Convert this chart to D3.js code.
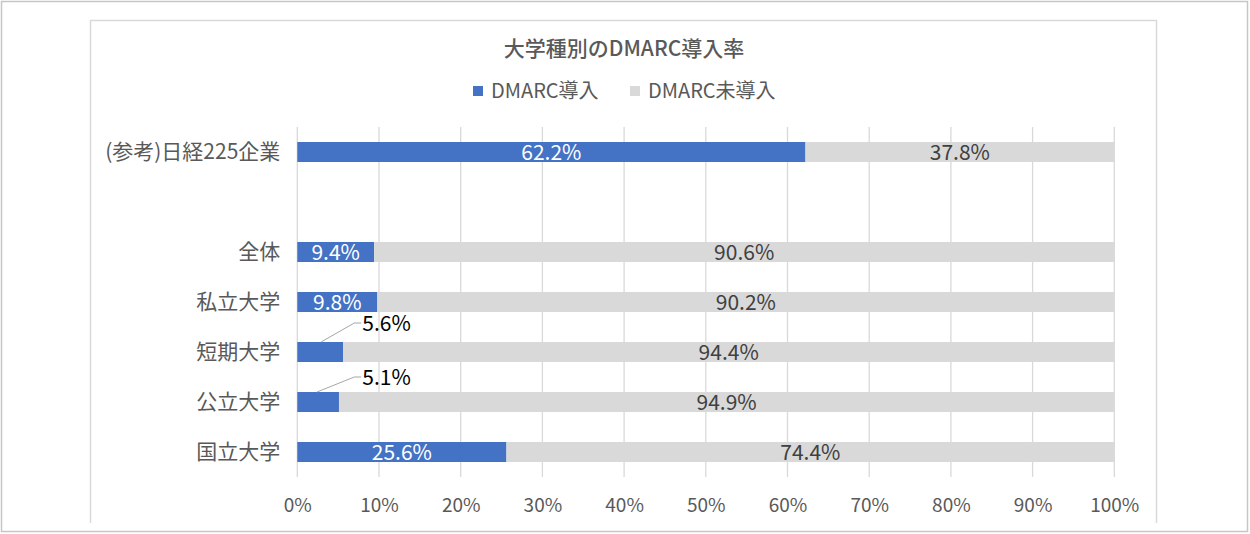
<!DOCTYPE html>
<html><head><meta charset="utf-8">
<script src="https://cdn.jsdelivr.net/npm/d3@7"></script>
<style>
html,body{margin:0;padding:0;background:#fff;}
svg{display:block;font-family:"Noto Sans CJK JP","Noto Sans",sans-serif;}
</style></head>
<body>
<svg id="chart" width="1250" height="534"></svg>
<script>
const chartTitle = "大学種別のDMARC導入率";
const seriesNames = ["DMARC導入", "DMARC未導入"];
const categories = ["(参考)日経225企業", "", "全体", "私立大学", "短期大学", "公立大学", "国立大学"];
const adopted =    [62.2, null, 9.4, 9.8, 5.6, 5.1, 25.6];
const notAdopted = [37.8, null, 90.6, 90.2, 94.4, 94.9, 74.4];
const xTicks = [0, 10, 20, 30, 40, 50, 60, 70, 80, 90, 100];

const colors = ["#4472C4", "#D9D9D9"];
const svg = d3.select("#chart");

// frames
svg.append("rect").attr("x", 1.5).attr("y", 1.5).attr("width", 1246).attr("height", 530)
  .attr("fill", "none").attr("stroke", "#c6c6c6").attr("stroke-width", 1.5);
svg.append("path").attr("d", "M90.5,523V20.5H1156.5V523")
  .attr("fill", "none").attr("stroke", "#d9d9d9").attr("stroke-width", 1.5);

const x = d3.scaleLinear().domain([0, 100]).range([297.3, 1114.3]);
const keys = categories.map((c, i) => "k" + i);
const y = d3.scaleBand().domain(keys).range([127, 477]).paddingInner(0.6).paddingOuter(0.3);

// gridlines
svg.append("g").selectAll("line").data(xTicks).join("line")
  .attr("x1", d => x(d)).attr("x2", d => x(d))
  .attr("y1", 127).attr("y2", 477)
  .attr("stroke", "#d9d9d9").attr("stroke-width", 1.3);

// x axis labels
const xAxis = d3.axisBottom(x).tickValues(xTicks).tickFormat(d => d + "%").tickSize(0).tickPadding(0);
const gx = svg.append("g").attr("transform", "translate(0,500)").call(xAxis);
gx.select(".domain").remove();
gx.selectAll("text").attr("font-size", 19).attr("fill", "#595959")
  .attr("font-family", "'Noto Sans CJK JP',sans-serif").attr("dy", "0.75em").attr("y", -2);

// y axis labels
const yAxis = d3.axisLeft(y).tickFormat((d, i) => categories[i]).tickSize(0).tickPadding(17);
const gy = svg.append("g").attr("transform", "translate(297.3,0)").call(yAxis);
gy.select(".domain").remove();
gy.selectAll("text").attr("font-size", 21).attr("fill", "#595959")
  .attr("font-family", "'Noto Sans CJK JP',sans-serif");

const rows = categories.map((c, i) => ({ key: keys[i], a: adopted[i], b: notAdopted[i] }))
  .filter(r => r.a != null);

const bh = y.bandwidth();
// bars
svg.append("g").selectAll("rect").data(rows).join("rect")
  .attr("x", d => x(0)).attr("y", d => y(d.key))
  .attr("width", d => x(d.a) - x(0)).attr("height", bh).attr("fill", colors[0]);
svg.append("g").selectAll("rect").data(rows).join("rect")
  .attr("x", d => x(d.a)).attr("y", d => y(d.key))
  .attr("width", d => x(d.a + d.b) - x(d.a)).attr("height", bh).attr("fill", colors[1]);

const fmt = v => v.toFixed(1) + "%";
// labels on adopted bars
const inside = rows.filter(d => d.a >= 8);
svg.append("g").selectAll("text").data(inside).join("text")
  .attr("x", d => (x(0) + x(d.a)) / 2).attr("y", d => y(d.key) + bh / 2)
  .attr("dy", "0.36em").attr("text-anchor", "middle")
  .attr("font-size", 21).attr("fill", "#fff").text(d => fmt(d.a));

// outside labels with leader lines
const outside = rows.filter(d => d.a < 8);
const lift = [9, 5];
outside.forEach((d, i) => {
  const top = y(d.key);
  const bx = x(d.a) - 22;
  const ly = top - lift[i] - 10;
  svg.append("path")
    .attr("d", `M${bx},${top}L${x(0) + 57},${ly}H${x(0) + 64}`)
    .attr("fill", "none").attr("stroke", "#a6a6a6").attr("stroke-width", 1);
  svg.append("text").attr("x", x(0) + 65).attr("y", ly).attr("dy", "0.36em")
    .attr("font-size", 21).attr("fill", "#000").text(fmt(d.a));
});

// labels on not adopted
svg.append("g").selectAll("text").data(rows).join("text")
  .attr("x", d => (x(d.a) + x(d.a + d.b)) / 2).attr("y", d => y(d.key) + bh / 2)
  .attr("dy", "0.36em").attr("text-anchor", "middle")
  .attr("font-size", 21).attr("fill", "#404040").text(d => fmt(d.b));

// title
svg.append("text").attr("x", 624).attr("y", 48).attr("dy", "0.36em").attr("text-anchor", "middle")
  .attr("font-size", 21).attr("font-weight", 500).attr("fill", "#595959").text(chartTitle);

// legend
const legendX = [473, 630];
const lg = svg.append("g").selectAll("g").data(seriesNames).join("g")
  .attr("transform", (d, i) => `translate(${legendX[i]},91)`);
lg.append("rect").attr("x", 0).attr("y", -5).attr("width", 10).attr("height", 10)
  .attr("fill", (d, i) => colors[i]);
lg.append("text").attr("x", 18).attr("y", 0).attr("dy", "0.36em")
  .attr("font-size", 20).attr("fill", "#595959").text(d => d);
</script>
</body></html>
